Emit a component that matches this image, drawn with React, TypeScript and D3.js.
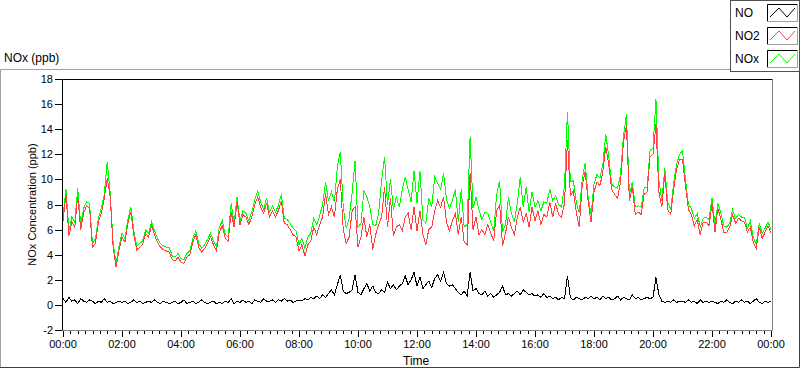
import { useEffect, useRef } from "react";
import * as d3 from "d3";

// readings every 6 minutes, 00:00 -> 24:00 (ppb)
const no2 = [
  6.7, 8.8, 5.5, 6.6, 6.2, 8.7, 6.0, 7.3, 7.9, 7.7,
  4.6, 4.9, 6.6, 7.3, 8.5, 10.1, 8.6, 4.6, 3.0, 4.4,
  5.4, 5.0, 6.5, 7.4, 5.6, 4.4, 4.6, 4.8, 5.7, 5.4,
  6.3, 5.6, 5.0, 4.6, 4.4, 4.3, 4.2, 3.6, 3.5, 3.8,
  3.4, 3.3, 3.8, 4.0, 5.0, 5.6, 4.6, 4.2, 4.5, 4.9,
  5.4, 4.8, 4.3, 5.8, 6.3, 5.3, 5.1, 7.4, 6.2, 8.2,
  6.4, 7.2, 7.0, 6.4, 7.0, 8.0, 8.6, 7.8, 7.3, 8.1,
  7.0, 7.5, 7.0, 7.5, 8.3, 6.5, 6.4, 6.0, 5.6, 5.4,
  4.3, 4.8, 3.9, 4.8, 5.1, 6.2, 5.6, 6.4, 7.0, 8.9,
  7.2, 7.8, 7.0, 9.2, 10.0, 6.0, 4.9, 5.4, 7.5, 7.8,
  4.6, 5.4, 7.0, 5.4, 6.4, 4.4, 5.6, 6.4, 7.0, 9.4,
  6.2, 8.5, 5.5, 6.2, 6.4, 5.9, 7.0, 7.3, 6.0, 7.8,
  5.9, 7.5, 5.6, 4.8, 6.0, 6.2, 7.5, 8.3, 7.8, 8.6,
  6.6, 5.9, 6.7, 7.3, 5.6, 7.0, 5.0, 4.8, 10.5, 6.0,
  7.0, 5.6, 6.0, 5.6, 6.4, 5.7, 5.1, 7.5, 8.0, 4.7,
  5.7, 7.0, 6.2, 5.6, 7.0, 7.8, 6.6, 7.3, 6.2, 7.8,
  6.7, 7.5, 6.4, 7.2, 7.0, 8.2, 7.0, 8.1, 7.2, 7.0,
  8.1, 13.1, 8.7, 9.1, 7.4, 6.2, 9.5, 10.6, 8.3, 6.6,
  9.0, 9.8, 9.5, 10.6, 12.6, 11.2, 9.2, 8.8, 8.5, 9.8,
  13.0, 14.3, 8.3, 9.4, 7.2, 7.4, 7.2, 8.8, 9.0, 11.8,
  12.0, 14.4, 9.0, 7.8, 10.5, 7.6, 7.2, 9.2, 10.8, 11.6,
  11.6, 9.5, 7.6, 7.2, 6.3, 6.8, 5.6, 6.6, 6.6, 6.3,
  8.1, 5.8, 7.7, 6.8, 5.8, 5.8, 6.2, 7.2, 6.5, 6.9,
  6.7, 6.6, 5.8, 6.2, 5.0, 4.5, 6.2, 5.3, 5.8, 6.3,
  5.7,
];

const nox = [
  7.1, 9.2, 5.9, 7.0, 6.6, 9.3, 6.4, 7.7, 8.2, 8.1,
  4.9, 5.3, 6.9, 7.7, 8.8, 11.4, 8.9, 4.9, 3.3, 4.7,
  5.7, 5.3, 6.8, 7.8, 5.9, 4.7, 4.9, 5.1, 6.0, 5.7,
  6.6, 5.9, 5.3, 4.9, 4.7, 4.6, 4.6, 3.9, 3.8, 4.1,
  3.7, 3.6, 4.1, 4.3, 5.3, 5.9, 4.9, 4.5, 4.8, 5.2,
  5.7, 5.1, 4.6, 6.2, 6.7, 5.6, 5.4, 8.1, 6.5, 8.6,
  6.7, 7.5, 7.3, 6.7, 7.4, 8.4, 9.1, 8.2, 7.6, 8.5,
  7.4, 7.9, 7.4, 7.9, 8.8, 6.9, 6.8, 6.5, 6.1, 5.9,
  4.8, 5.3, 4.5, 5.4, 5.7, 6.9, 6.4, 7.1, 8.0, 9.8,
  8.3, 9.0, 8.2, 11.0, 12.2, 7.8, 6.1, 6.9, 8.9, 11.5,
  6.2, 6.5, 9.1, 8.6, 7.8, 6.4, 6.3, 7.3, 9.9, 11.8,
  8.0, 10.0, 7.6, 8.6, 7.8, 9.2, 10.2, 9.2, 8.2, 10.7,
  8.1, 10.7, 6.8, 6.5, 8.5, 7.8, 10.2, 9.7, 9.2, 10.5,
  8.4, 7.7, 8.3, 9.2, 6.6, 9.2, 6.2, 6.4, 13.4, 7.7,
  8.6, 7.6, 6.8, 7.4, 7.3, 6.6, 5.9, 8.8, 9.9, 5.8,
  6.4, 8.6, 7.3, 6.6, 8.1, 10.2, 7.8, 9.4, 7.4, 9.0,
  7.8, 8.3, 7.5, 8.2, 8.1, 9.2, 8.3, 8.7, 8.0, 7.8,
  9.5, 15.4, 9.8, 9.9, 8.2, 7.3, 10.0, 11.3, 8.6, 7.2,
  9.6, 10.4, 10.1, 11.2, 13.6, 11.8, 9.6, 9.4, 9.3, 10.4,
  13.5, 15.2, 8.8, 9.8, 7.8, 7.9, 7.8, 9.3, 9.4, 12.3,
  12.5, 16.4, 9.9, 8.3, 10.9, 8.2, 7.6, 9.7, 11.2, 12.0,
  12.3, 10.0, 8.0, 7.7, 6.9, 7.3, 6.2, 6.9, 7.0, 6.8,
  8.5, 6.4, 8.1, 7.3, 6.3, 6.2, 6.5, 7.6, 6.9, 7.2,
  7.0, 7.0, 6.1, 6.7, 5.4, 4.8, 6.5, 5.7, 6.1, 6.6,
  6.0,
];

const no = [
  0.5, 0.2, 0.6, 0.3, 0.4, 0.1, 0.5, 0.3, 0.2, 0.4,
  0.3, 0.1, 0.3, 0.2, 0.5, 0.2, 0.3, 0.1, 0.2, 0.3,
  0.2, 0.3, 0.1, 0.2, 0.4, 0.2, 0.3, 0.1, 0.2, 0.3,
  0.2, 0.4, 0.2, 0.1, 0.3, 0.2, 0.1, 0.2, 0.3, 0.1,
  0.2, 0.4, 0.1, 0.2, 0.3, 0.1, 0.2, 0.4, 0.2, 0.1,
  0.2, 0.3, 0.1, 0.2, 0.1, 0.3, 0.2, 0.5, 0.1, 0.3,
  0.2, 0.4, 0.2, 0.3, 0.1, 0.4, 0.3, 0.2, 0.5, 0.3,
  0.3, 0.4, 0.2, 0.4, 0.3, 0.5, 0.3, 0.4, 0.2, 0.3,
  0.4, 0.3, 0.5, 0.4, 0.6, 0.5, 0.7, 0.5, 0.8, 0.6,
  0.9, 1.2, 0.8, 1.6, 2.4, 1.1, 0.9, 1.0, 1.2, 2.4,
  1.0, 0.8, 1.3, 1.7, 1.1, 1.5, 1.0, 0.9, 1.2, 1.0,
  1.8, 1.3, 1.6, 1.2, 1.5, 1.7, 2.3, 1.6, 2.0, 2.6,
  1.5, 2.2, 1.3, 1.6, 1.9, 1.4, 2.1, 2.4, 1.9, 2.6,
  1.7, 1.5, 1.6, 1.3, 1.0, 0.8, 1.1, 0.7, 2.6, 1.1,
  1.3, 0.9, 0.8, 1.1, 0.7, 0.9, 0.6, 0.8, 1.0, 1.5,
  0.8, 0.9, 0.7, 0.9, 1.1, 0.8, 1.2, 1.0, 0.8, 0.9,
  0.7, 0.8, 0.6, 0.9, 0.6, 0.7, 0.5, 0.6, 0.4, 0.6,
  0.5, 2.3, 0.6, 0.4, 0.6, 0.5, 0.4, 0.6, 0.5, 0.7,
  0.5, 0.6, 0.4, 0.7, 0.5, 0.6, 0.4, 0.5, 0.7, 0.4,
  0.6, 0.5, 0.4, 0.8, 0.5, 0.6, 0.4, 0.5, 0.6, 0.5,
  0.6, 2.2, 0.8, 0.3, 0.2, 0.3, 0.2, 0.4, 0.2, 0.3,
  0.3, 0.2, 0.4, 0.2, 0.3, 0.1, 0.4, 0.2, 0.3, 0.2,
  0.3, 0.2, 0.1, 0.3, 0.2, 0.4, 0.2, 0.1, 0.3, 0.2,
  0.4, 0.2, 0.3, 0.1, 0.3, 0.5, 0.2, 0.1, 0.3, 0.2,
  0.3,
];

const sampleHours = 0.1;
const seriesNames = ["NO", "NO2", "NOx"];
const seriesColors = ["#000000", "#ff4040", "#00ff00"];
const yTicks = [-2, 0, 2, 4, 6, 8, 10, 12, 14, 16, 18];
const xTickLabels = ["00:00", "02:00", "04:00", "06:00", "08:00", "10:00", "12:00",
  "14:00", "16:00", "18:00", "20:00", "22:00", "00:00"];

const font = "'Liberation Sans', Arial, sans-serif";

const App = () => {
  const svgRef = useRef<SVGSVGElement>(null);

  useEffect(() => {
    if (!svgRef.current) return;
    document.body.style.margin = "0";

    const svg = d3.select(svgRef.current);
    svg.selectAll("*").remove();

    const width = 800;
    const height = 369;
    const plot = { left: 62, top: 79, right: 772, bottom: 330 };

    svg.append("rect").attr("width", width).attr("height", height).attr("fill", "#fff");

    // outer panel border
    const panel = svg.append("g").attr("fill", "none");
    panel.append("path").attr("d", "M0.5,368 L0.5,69.5 L730,69.5").attr("stroke", "#a0a0a0");
    panel.append("path").attr("d", "M0,367.5 L799.5,367.5 L799.5,72").attr("stroke", "#404040");

    svg.append("text")
      .attr("x", 4).attr("y", 62)
      .style("font-family", font).style("font-size", "12px")
      .text("NOx (ppb)");

    const x = d3.scaleLinear().domain([0, 24]).range([63, 771]);
    const y = d3.scaleLinear().domain([-2, 18]).range([plot.bottom, plot.top]);

    // plot frame
    svg.append("path")
      .attr("d", `M${plot.left + 0.5},${plot.bottom} L${plot.left + 0.5},${plot.top + 0.5} L${plot.right},${plot.top + 0.5}`)
      .attr("fill", "none").attr("stroke", "#000");
    svg.append("path")
      .attr("d", `M${plot.left},${plot.bottom + 0.5} L${plot.right + 0.5},${plot.bottom + 0.5} L${plot.right + 0.5},${plot.top}`)
      .attr("fill", "none").attr("stroke", "#808080");

    svg.append("clipPath").attr("id", "plotclip")
      .append("rect")
      .attr("x", plot.left + 1).attr("y", plot.top + 1)
      .attr("width", plot.right - plot.left - 1).attr("height", plot.bottom - plot.top - 1);

    const line = d3.line<number>()
      .x((_, i) => x(i * sampleHours))
      .y(d => y(d));

    const lines = svg.append("g").attr("clip-path", "url(#plotclip)");
    [nox, no2, no].forEach((vals, k) => {
      lines.append("path")
        .attr("d", line(vals))
        .attr("fill", "none")
        .attr("stroke", seriesColors[2 - k])
        .attr("stroke-width", 1)
        .attr("shape-rendering", "crispEdges");
    });

    // y axis
    const yAxis = svg.append("g");
    yTicks.forEach(t => {
      yAxis.append("line")
        .attr("x1", 55).attr("x2", plot.left)
        .attr("y1", Math.round(y(t)) + 0.5).attr("y2", Math.round(y(t)) + 0.5)
        .attr("stroke", "#000");
      yAxis.append("text")
        .attr("x", 53).attr("y", y(t) + 4)
        .attr("text-anchor", "end")
        .style("font-family", font).style("font-size", "11px")
        .text(t);
    });

    svg.append("text")
      .attr("transform", `translate(36,${(plot.top + plot.bottom) / 2}) rotate(-90)`)
      .attr("text-anchor", "middle")
      .style("font-family", font).style("font-size", "11px")
      .text("NOx Concentration (ppb)");

    // x axis
    const xAxis = svg.append("g");
    d3.range(0, 24.01, 0.25).forEach(t => {
      const major = Math.abs(t % 2) < 1e-6;
      xAxis.append("line")
        .attr("x1", Math.round(x(t)) + 0.5).attr("x2", Math.round(x(t)) + 0.5)
        .attr("y1", plot.bottom + 1).attr("y2", plot.bottom + (major ? 7 : 4))
        .attr("stroke", "#000");
    });
    xTickLabels.forEach((lab, i) => {
      xAxis.append("text")
        .attr("x", x(i * 2)).attr("y", 348)
        .attr("text-anchor", "middle")
        .style("font-family", font).style("font-size", "11px")
        .text(lab);
    });

    svg.append("text")
      .attr("x", 403).attr("y", 365)
      .style("font-family", font).style("font-size", "12px")
      .text("Time");

    // legend
    const legend = svg.append("g");
    legend.append("rect")
      .attr("x", 730.5).attr("y", 0.5).attr("width", 69).attr("height", 71)
      .attr("fill", "#fff").attr("stroke", "#505050");
    seriesNames.forEach((name, i) => {
      const top = 4 + i * 23;
      const bx = 767;
      legend.append("text")
        .attr("x", 735).attr("y", top + 13)
        .style("font-family", font).style("font-size", "12px")
        .text(name);
      legend.append("rect")
        .attr("x", bx + 0.5).attr("y", top + 0.5).attr("width", 30).attr("height", 17)
        .attr("fill", "#fff").attr("stroke", "#a0a0a0");
      legend.append("path")
        .attr("d", `M${bx + 0.5},${top + 17} L${bx + 0.5},${top + 0.5} L${bx + 30},${top + 0.5}`)
        .attr("fill", "none").attr("stroke", "#000");
      legend.append("path")
        .attr("d", `M${bx + 3},${top + 13} L${bx + 12},${top + 4} L${bx + 20},${top + 13} L${bx + 28},${top + 4}`)
        .attr("fill", "none").attr("stroke", seriesColors[i]);
    });
  }, []);

  return <svg ref={svgRef} width={800} height={369} style={{ display: "block" }} />;
};

export default App;
